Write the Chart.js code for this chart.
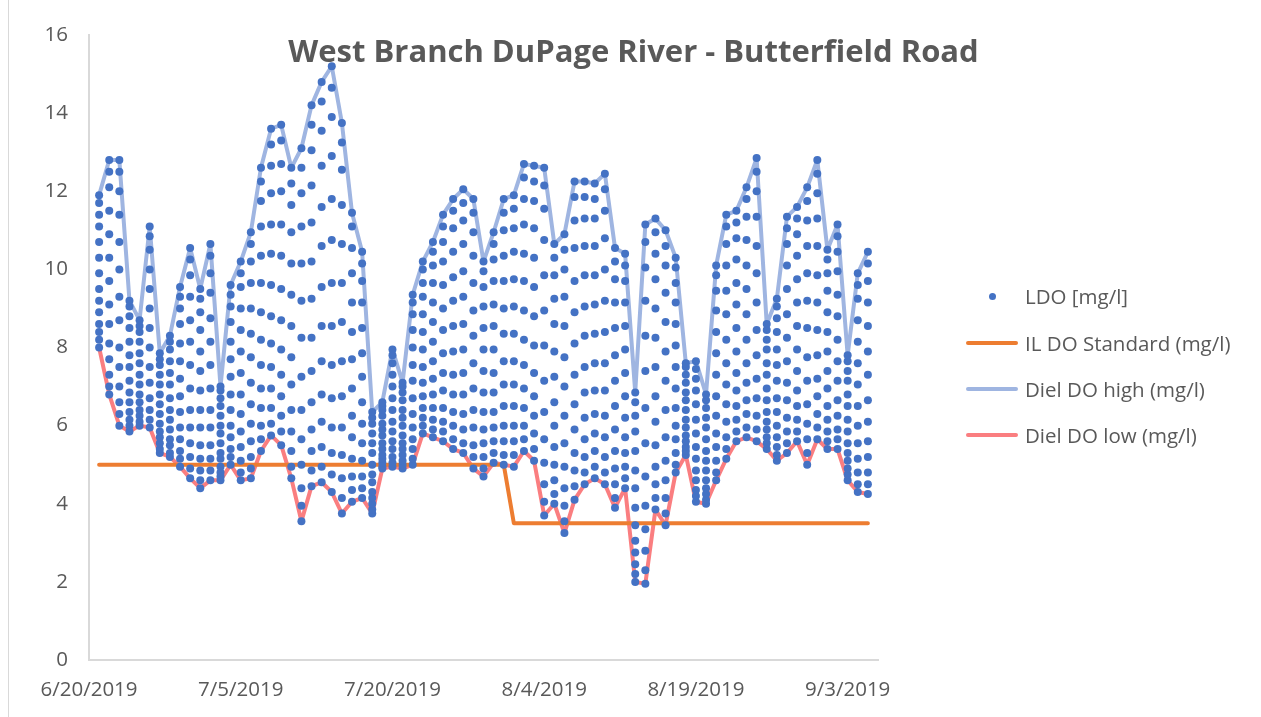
<!DOCTYPE html>
<html lang="en">
<head>
<meta charset="UTF-8" />
<title>West Branch DuPage River - Butterfield Road</title>
<script src="https://cdn.jsdelivr.net/npm/chart.js"></script>
<style>
  body {
    margin: 0;
    background: #fff;
    font-family: 'Open Sans', sans-serif;
    color: #595959;
  }
  .wrap {
    position: relative;
    width: 1261px;
    height: 717px;
    overflow: hidden;
  }
  .frame {
    position: absolute;
    left: 8px;
    top: 0;
    width: 1px;
    height: 717px;
    background: #d9d9d9;
  }
  h1 {
    position: absolute;
    left: 3px;
    top: 30px;
    width: 1261px;
    margin: 0;
    text-align: center;
    font-size: 31px;
    font-weight: 700;
    line-height: 40px;
    color: #595959;
  }
  .item {
    position: absolute;
    left: 966px;
    height: 30px;
    display: flex;
    align-items: center;
    white-space: nowrap;
    font-size: 20.5px;
  }
  .mark {
    position: relative;
    width: 52px;
    height: 30px;
    margin-right: 7px;
  }
  .mark span {
    position: absolute;
  }
</style>
</head>
<body>
<div class="wrap">
  <canvas id="doChart" width="1261" height="717"></canvas>
  <div class="frame"></div>
  <h1>West Branch DuPage River - Butterfield Road</h1>
  <div id="legend"></div>
</div>

<script>
  // x axis: days after 6/20/2019
  const xTickDays = [0, 15, 30, 45, 60, 75];
  const xTickLabels = ['6/20/2019', '7/5/2019', '7/20/2019', '8/4/2019', '8/19/2019', '9/3/2019'];
  const firstDay = 1; // data starts 6/21/2019

  const dielHigh = [
    11.9, 12.8, 12.8, 9.2, 8.7, 11.1, 7.85, 8.3, 9.55, 10.55,
    9.5, 10.65, 7.0, 9.6, 10.2, 10.95, 12.6, 13.6, 13.7, 12.6,
    13.1, 14.2, 14.8, 15.2, 13.75, 11.45, 10.45, 6.35, 6.6, 7.95,
    7.1, 9.35, 10.2, 10.7, 11.4, 11.8, 12.05, 11.8, 10.2, 10.95,
    11.8, 11.9, 12.7, 12.65, 12.6, 10.65, 10.9, 12.25, 12.25, 12.2,
    12.45, 10.55, 10.4, 6.85, 11.15, 11.3, 11.0, 10.3, 7.6, 7.65,
    6.8, 10.1, 11.4, 11.5, 12.1, 12.85, 8.6, 9.25, 11.35, 11.6,
    12.1, 12.8, 10.5, 11.15, 7.8, 9.9, 10.45
  ];

  const dielLow = [
    8.0, 6.8, 6.0, 5.85, 6.0, 5.95, 5.3, 5.2, 4.95, 4.65,
    4.4, 4.6, 4.6, 5.0, 4.6, 4.65, 5.35, 5.75, 5.5, 4.65,
    3.55, 4.45, 4.55, 4.3, 3.75, 4.05, 4.15, 3.75, 4.9, 4.95,
    4.9, 5.0, 5.8, 5.7, 5.6, 5.4, 5.3, 4.9, 4.7, 5.05,
    5.0, 4.95, 5.35, 5.1, 3.7, 4.0, 3.25, 4.1, 4.5, 4.65,
    4.5, 3.9, 4.4, 2.0, 1.95, 3.85, 3.45, 4.8, 5.25, 4.05,
    4.0, 4.6, 5.15, 5.6, 5.7, 5.6, 5.4, 5.1, 5.3, 5.6,
    5.0, 5.65, 5.4, 5.4, 4.6, 4.3, 4.25
  ];

  const ilStandard = [
    5, 5, 5, 5, 5, 5, 5, 5, 5, 5,
    5, 5, 5, 5, 5, 5, 5, 5, 5, 5,
    5, 5, 5, 5, 5, 5, 5, 5, 5, 5,
    5, 5, 5, 5, 5, 5, 5, 5, 5, 5,
    5, 3.5, 3.5, 3.5, 3.5, 3.5, 3.5, 3.5, 3.5, 3.5,
    3.5, 3.5, 3.5, 3.5, 3.5, 3.5, 3.5, 3.5, 3.5, 3.5,
    3.5, 3.5, 3.5, 3.5, 3.5, 3.5, 3.5, 3.5, 3.5, 3.5,
    3.5, 3.5, 3.5, 3.5, 3.5, 3.5, 3.5
  ];

  // LDO readings, one row per day
  const ldoByDay = [
    [8.0, 8.2, 8.4, 8.6, 8.9, 9.2, 9.5, 9.9, 10.3, 10.7, 11.1, 11.4, 11.7, 11.9],
    [6.8, 7.0, 7.3, 7.7, 8.1, 8.6, 9.1, 9.7, 10.3, 10.9, 11.5, 12.1, 12.5, 12.8],
    [6.0, 6.3, 6.6, 7.0, 7.5, 8.0, 8.7, 9.3, 10.0, 10.7, 11.4, 12.0, 12.5, 12.8],
    [5.85, 6.0, 6.15, 6.35, 6.6, 6.85, 7.15, 7.5, 7.8, 8.15, 8.5, 8.8, 9.05, 9.2],
    [6.0, 6.1, 6.25, 6.4, 6.6, 6.8, 7.05, 7.3, 7.6, 7.85, 8.15, 8.4, 8.55, 8.7],
    [5.95, 6.15, 6.4, 6.7, 7.1, 7.5, 8.0, 8.5, 9.0, 9.5, 10.0, 10.5, 10.85, 11.1],
    [5.3, 5.4, 5.55, 5.7, 5.85, 6.05, 6.3, 6.55, 6.8, 7.05, 7.3, 7.55, 7.7, 7.85],
    [5.2, 5.3, 5.5, 5.65, 5.9, 6.15, 6.4, 6.7, 7.05, 7.35, 7.65, 7.95, 8.15, 8.3],
    [4.95, 5.15, 5.35, 5.65, 5.95, 6.35, 6.75, 7.2, 7.65, 8.1, 8.6, 9.0, 9.3, 9.55],
    [4.65, 4.9, 5.2, 5.55, 5.95, 6.4, 6.95, 7.55, 8.15, 8.7, 9.3, 9.85, 10.25, 10.55],
    [4.4, 4.6, 4.85, 5.15, 5.5, 5.95, 6.4, 6.9, 7.4, 7.9, 8.45, 8.9, 9.25, 9.5],
    [4.6, 4.85, 5.15, 5.5, 5.95, 6.4, 6.95, 7.55, 8.15, 8.75, 9.4, 9.9, 10.35, 10.65],
    [4.6, 4.7, 4.8, 4.95, 5.15, 5.3, 5.55, 5.8, 6.0, 6.25, 6.5, 6.7, 6.9, 7.0],
    [5.0, 5.2, 5.4, 5.7, 6.0, 6.4, 6.8, 7.25, 7.7, 8.15, 8.65, 9.05, 9.35, 9.6],
    [4.6, 4.8, 5.1, 5.45, 5.85, 6.3, 6.8, 7.35, 7.9, 8.45, 9.0, 9.55, 9.9, 10.2],
    [4.65, 4.9, 5.2, 5.6, 6.05, 6.55, 7.1, 7.75, 8.35, 9.0, 9.65, 10.2, 10.65, 10.95],
    [5.35, 5.65, 6.0, 6.45, 6.95, 7.55, 8.2, 8.9, 9.65, 10.35, 11.1, 11.75, 12.25, 12.6],
    [5.75, 6.05, 6.45, 6.95, 7.5, 8.1, 8.8, 9.6, 10.4, 11.15, 11.95, 12.65, 13.2, 13.6],
    [5.5, 5.85, 6.25, 6.75, 7.3, 7.95, 8.7, 9.5, 10.35, 11.15, 12.0, 12.7, 13.3, 13.7],
    [4.65, 4.95, 5.35, 5.85, 6.4, 7.05, 7.75, 8.55, 9.35, 10.15, 10.95, 11.65, 12.2, 12.6],
    [3.55, 3.95, 4.4, 5.0, 5.65, 6.4, 7.25, 8.25, 9.2, 10.15, 11.1, 11.95, 12.6, 13.1],
    [4.45, 4.85, 5.35, 5.9, 6.6, 7.4, 8.25, 9.25, 10.2, 11.2, 12.15, 13.05, 13.7, 14.2],
    [4.55, 4.95, 5.45, 6.1, 6.8, 7.65, 8.55, 9.55, 10.6, 11.6, 12.65, 13.55, 14.3, 14.8],
    [4.3, 4.75, 5.3, 5.95, 6.7, 7.55, 8.55, 9.65, 10.75, 11.8, 12.9, 13.9, 14.65, 15.2],
    [3.75, 4.15, 4.65, 5.25, 5.95, 6.75, 7.65, 8.65, 9.65, 10.65, 11.65, 12.55, 13.25, 13.75],
    [4.05, 4.35, 4.7, 5.15, 5.7, 6.25, 6.95, 7.7, 8.4, 9.15, 9.9, 10.55, 11.1, 11.45],
    [4.15, 4.4, 4.7, 5.1, 5.55, 6.05, 6.6, 7.25, 7.85, 8.5, 9.15, 9.7, 10.15, 10.45],
    [3.75, 3.85, 4.0, 4.15, 4.3, 4.55, 4.75, 5.0, 5.3, 5.55, 5.8, 6.05, 6.2, 6.35],
    [4.9, 4.95, 5.05, 5.15, 5.25, 5.4, 5.55, 5.75, 5.9, 6.05, 6.25, 6.4, 6.5, 6.6],
    [4.95, 5.05, 5.2, 5.4, 5.6, 5.85, 6.1, 6.4, 6.7, 7.0, 7.3, 7.6, 7.8, 7.95],
    [4.9, 5.0, 5.1, 5.25, 5.4, 5.55, 5.75, 6.0, 6.2, 6.4, 6.65, 6.85, 7.0, 7.1],
    [5.0, 5.15, 5.4, 5.65, 5.95, 6.3, 6.7, 7.15, 7.55, 8.0, 8.45, 8.85, 9.15, 9.35],
    [5.8, 6.0, 6.2, 6.45, 6.75, 7.1, 7.5, 7.95, 8.4, 8.85, 9.3, 9.65, 10.0, 10.2],
    [5.7, 5.9, 6.15, 6.45, 6.8, 7.2, 7.65, 8.15, 8.65, 9.15, 9.65, 10.1, 10.45, 10.7],
    [5.6, 5.85, 6.1, 6.45, 6.9, 7.35, 7.85, 8.45, 9.0, 9.6, 10.2, 10.7, 11.1, 11.4],
    [5.4, 5.65, 6.0, 6.35, 6.8, 7.3, 7.9, 8.55, 9.2, 9.8, 10.45, 11.05, 11.5, 11.8],
    [5.3, 5.55, 5.9, 6.3, 6.8, 7.35, 7.95, 8.6, 9.3, 9.95, 10.65, 11.25, 11.7, 12.05],
    [4.9, 5.2, 5.5, 5.95, 6.4, 6.95, 7.6, 8.3, 8.95, 9.65, 10.35, 10.95, 11.45, 11.8],
    [4.7, 4.9, 5.2, 5.55, 5.9, 6.35, 6.85, 7.4, 7.95, 8.5, 9.05, 9.55, 9.95, 10.2],
    [5.05, 5.3, 5.6, 5.95, 6.35, 6.85, 7.35, 7.95, 8.55, 9.1, 9.7, 10.25, 10.65, 10.95],
    [5.0, 5.25, 5.6, 6.0, 6.5, 7.05, 7.65, 8.35, 9.0, 9.7, 10.35, 11.0, 11.45, 11.8],
    [4.95, 5.25, 5.6, 6.0, 6.5, 7.05, 7.65, 8.35, 9.05, 9.75, 10.45, 11.05, 11.55, 11.9],
    [5.35, 5.65, 6.0, 6.45, 6.95, 7.55, 8.2, 8.95, 9.7, 10.4, 11.15, 11.8, 12.35, 12.7],
    [5.1, 5.4, 5.8, 6.25, 6.75, 7.35, 8.05, 8.8, 9.55, 10.3, 11.05, 11.75, 12.25, 12.65],
    [3.7, 4.05, 4.5, 5.05, 5.65, 6.35, 7.15, 8.05, 8.95, 9.85, 10.75, 11.55, 12.15, 12.6],
    [4.0, 4.25, 4.6, 5.0, 5.45, 6.0, 6.6, 7.25, 7.9, 8.6, 9.25, 9.85, 10.3, 10.65],
    [3.25, 3.55, 3.95, 4.4, 4.95, 5.55, 6.25, 7.0, 7.75, 8.55, 9.3, 10.0, 10.5, 10.9],
    [4.1, 4.45, 4.85, 5.3, 5.9, 6.55, 7.3, 8.1, 8.9, 9.7, 10.55, 11.25, 11.85, 12.25],
    [4.5, 4.8, 5.2, 5.65, 6.2, 6.85, 7.5, 8.3, 9.05, 9.85, 10.6, 11.3, 11.85, 12.25],
    [4.65, 4.95, 5.35, 5.8, 6.3, 6.9, 7.6, 8.35, 9.1, 9.85, 10.6, 11.3, 11.8, 12.2],
    [4.5, 4.8, 5.2, 5.7, 6.25, 6.9, 7.6, 8.4, 9.2, 10.0, 10.8, 11.5, 12.05, 12.45],
    [3.9, 4.15, 4.5, 4.9, 5.35, 5.9, 6.5, 7.15, 7.8, 8.5, 9.15, 9.75, 10.2, 10.55],
    [4.4, 4.65, 4.95, 5.3, 5.7, 6.2, 6.75, 7.35, 7.95, 8.55, 9.15, 9.7, 10.1, 10.4],
    [2.0, 2.2, 2.45, 2.75, 3.05, 3.45, 3.9, 4.4, 4.85, 5.35, 5.85, 6.25, 6.6, 6.85],
    [1.95, 2.3, 2.8, 3.35, 3.95, 4.7, 5.55, 6.45, 7.4, 8.3, 9.2, 10.05, 10.7, 11.15],
    [3.85, 4.15, 4.5, 4.95, 5.5, 6.1, 6.75, 7.5, 8.25, 9.0, 9.75, 10.4, 10.95, 11.3],
    [3.45, 3.75, 4.15, 4.6, 5.1, 5.7, 6.4, 7.15, 7.9, 8.65, 9.4, 10.1, 10.6, 11.0],
    [4.8, 5.0, 5.3, 5.65, 6.0, 6.45, 6.95, 7.5, 8.05, 8.6, 9.15, 9.65, 10.05, 10.3],
    [5.25, 5.35, 5.45, 5.6, 5.75, 5.95, 6.15, 6.4, 6.65, 6.85, 7.1, 7.3, 7.5, 7.6],
    [4.05, 4.2, 4.35, 4.6, 4.85, 5.15, 5.45, 5.8, 6.15, 6.55, 6.9, 7.2, 7.45, 7.65],
    [4.0, 4.1, 4.25, 4.4, 4.6, 4.85, 5.1, 5.35, 5.65, 5.95, 6.2, 6.45, 6.65, 6.8],
    [4.6, 4.8, 5.1, 5.45, 5.8, 6.25, 6.75, 7.3, 7.85, 8.4, 8.95, 9.45, 9.85, 10.1],
    [5.15, 5.4, 5.7, 6.1, 6.55, 7.05, 7.6, 8.2, 8.85, 9.45, 10.1, 10.65, 11.1, 11.4],
    [5.6, 5.85, 6.15, 6.5, 6.9, 7.35, 7.9, 8.5, 9.1, 9.65, 10.25, 10.8, 11.2, 11.5],
    [5.7, 5.95, 6.3, 6.65, 7.1, 7.6, 8.2, 8.85, 9.5, 10.1, 10.75, 11.35, 11.8, 12.1],
    [5.6, 5.9, 6.25, 6.7, 7.2, 7.8, 8.45, 9.15, 9.9, 10.6, 11.35, 12.0, 12.5, 12.85],
    [5.4, 5.55, 5.7, 5.9, 6.1, 6.35, 6.65, 6.95, 7.3, 7.6, 7.95, 8.2, 8.45, 8.6],
    [5.1, 5.25, 5.45, 5.7, 6.0, 6.35, 6.7, 7.15, 7.55, 7.95, 8.4, 8.75, 9.05, 9.25],
    [5.3, 5.55, 5.85, 6.2, 6.65, 7.1, 7.65, 8.25, 8.85, 9.5, 10.1, 10.65, 11.05, 11.35],
    [5.6, 5.85, 6.15, 6.5, 6.9, 7.4, 7.95, 8.55, 9.15, 9.75, 10.35, 10.9, 11.3, 11.6],
    [5.0, 5.3, 5.65, 6.05, 6.55, 7.15, 7.75, 8.5, 9.2, 9.9, 10.6, 11.25, 11.75, 12.1],
    [5.65, 5.95, 6.3, 6.75, 7.2, 7.8, 8.45, 9.15, 9.85, 10.6, 11.3, 11.95, 12.45, 12.8],
    [5.4, 5.6, 5.85, 6.15, 6.5, 6.95, 7.4, 7.9, 8.4, 8.9, 9.45, 9.9, 10.25, 10.5],
    [5.4, 5.65, 5.9, 6.25, 6.65, 7.15, 7.65, 8.2, 8.8, 9.35, 9.95, 10.45, 10.85, 11.15],
    [4.6, 4.75, 4.9, 5.1, 5.3, 5.55, 5.85, 6.15, 6.5, 6.8, 7.15, 7.4, 7.65, 7.8],
    [4.3, 4.5, 4.8, 5.15, 5.55, 6.0, 6.5, 7.05, 7.6, 8.15, 8.7, 9.25, 9.6, 9.9],
    [4.25, 4.5, 4.8, 5.2, 5.6, 6.1, 6.65, 7.3, 7.9, 8.55, 9.15, 9.7, 10.15, 10.45]
  ];

  const ldoPoints = [];
  ldoByDay.forEach((vals, i) => {
    vals.forEach(v => ldoPoints.push({ x: firstDay + i, y: v }));
  });
  const toXY = arr => arr.map((v, i) => ({ x: firstDay + i, y: v }));

  Chart.defaults.font.family = "'Open Sans', sans-serif";
  Chart.defaults.color = '#595959';

  const lineStyle = {
    showLine: true,
    pointRadius: 0,
    borderWidth: 4,
    borderJoinStyle: 'round',
    borderCapStyle: 'round',
    fill: false
  };

  const chart = new Chart(document.getElementById('doChart'), {
    type: 'scatter',
    data: {
      datasets: [
        {
          label: 'LDO [mg/l]',
          data: ldoPoints,
          pointRadius: 4,
          pointBorderWidth: 0,
          backgroundColor: '#4472C4',
          borderColor: '#4472C4'
        },
        { ...lineStyle, label: 'IL DO Standard (mg/l)', data: toXY(ilStandard), borderColor: '#ED7D31' },
        { ...lineStyle, label: 'Diel DO high (mg/l)', data: toXY(dielHigh), borderColor: '#9FB5E1' },
        { ...lineStyle, label: 'Diel DO low (mg/l)', data: toXY(dielLow), borderColor: '#FA7E80' }
      ]
    },
    options: {
      responsive: false,
      animation: false,
      devicePixelRatio: 1,
      layout: { padding: { top: 35, right: 383, left: 0, bottom: 0 } },
      plugins: {
        legend: { display: false },
        tooltip: { enabled: false }
      },
      scales: {
        x: {
          type: 'linear',
          min: 0,
          max: 78,
          grid: { display: false, drawTicks: false },
          border: { display: true, color: '#d9d9d9', width: 2 },
          afterBuildTicks: s => { s.ticks = xTickDays.map(v => ({ value: v })); },
          afterFit: s => { s.height = 57; },
          ticks: {
            autoSkip: false,
            maxRotation: 0,
            padding: 18,
            font: { size: 20.5 },
            callback: v => xTickLabels[xTickDays.indexOf(v)]
          }
        },
        y: {
          min: 0,
          max: 16,
          grid: { display: false, drawTicks: false },
          border: { display: true, color: '#d9d9d9', width: 2 },
          afterFit: s => { s.width = 89; },
          ticks: {
            stepSize: 2,
            padding: 21,
            font: { size: 20.5 }
          }
        }
      }
    }
  });

  // legend on the right, built from the datasets
  const legendTops = [296, 343, 389, 435];
  const legend = document.getElementById('legend');
  chart.data.datasets.forEach((ds, i) => {
    const item = document.createElement('div');
    item.className = 'item';
    item.style.top = (legendTops[i] - 15) + 'px';
    const mark = document.createElement('div');
    mark.className = 'mark';
    const sw = document.createElement('span');
    if (i === 0) {
      sw.style.cssText = 'left:23px;top:11.5px;width:7px;height:7px;border-radius:50%;background:' + ds.backgroundColor;
    } else {
      sw.style.cssText = 'left:0;top:13px;width:52px;height:4px;border-radius:2px;background:' + ds.borderColor;
    }
    mark.appendChild(sw);
    item.appendChild(mark);
    item.appendChild(document.createTextNode(ds.label));
    legend.appendChild(item);
  });
</script>
</body>
</html>
